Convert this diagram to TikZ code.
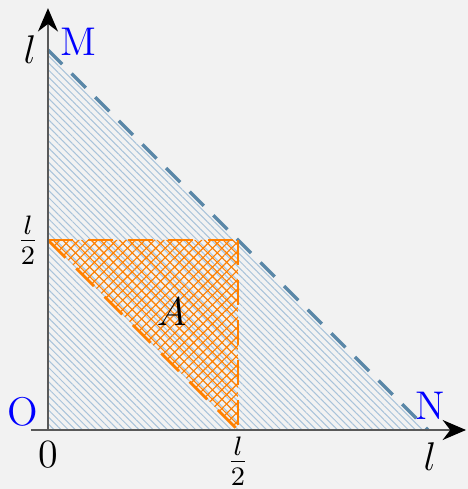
\documentclass[tikz,border=0pt]{standalone}
\usetikzlibrary{patterns.meta,arrows.meta}
\definecolor{bgray}{HTML}{F2F2F2}
\definecolor{hatchblue}{HTML}{A9C3DA}
\definecolor{lineblue}{HTML}{5A87A8}
\definecolor{areaorange}{HTML}{FF8000}
\tikzset{
  axis/.style={draw=black!65,line width=0.5pt,-{Stealth[length=7pt,width=6pt,color=black]}},
  bluedash/.style={draw=lineblue,line width=1pt,dash pattern=on 6pt off 4pt},
  orangedash/.style={draw=areaorange,line width=0.85pt,dash pattern=on 7.5pt off 4.5pt},
  lbl/.style={font=\large},
  pt/.style={font=\large,text=blue}
}
\begin{document}
\begin{tikzpicture}
  \fill[bgray] (-0.505,-0.621) rectangle (4.421,4.526);
  \useasboundingbox (-0.505,-0.621) rectangle (4.421,4.526);
  \coordinate (O) at (0,0);
  \coordinate (M) at (0,4);
  \coordinate (N) at (4,0);
  \coordinate (H) at (0,2);
  \coordinate (P) at (2,2);
  \coordinate (Q) at (2,0);
  % hatched areas
  \fill[pattern={Lines[angle=-45,distance=1.5pt,line width=0.3pt]},pattern color=hatchblue] (O) -- (M) -- (N) -- cycle;
  \fill[pattern={Hatch[angle=45,distance=2pt,line width=0.33pt]},pattern color=areaorange] (H) -- (P) -- (Q) -- cycle;
  % borders
  \draw[bluedash] (M) -- (N);
  \draw[orangedash] (H) -- (P);
  \draw[orangedash] (P) -- (Q);
  \draw[orangedash] (H) -- (Q);
  % axes
  \coordinate (xs) at (-0.18,0);
  \coordinate (xe) at (4.4,0);
  \coordinate (ye) at (0,4.44);
  \draw[axis] (xs) -- (xe);
  \draw[axis] (O) -- (ye);
  % labels
  \node[pt] (lM) at (0.316,4.084) {M};
  \node[pt] (lN) at (4.02,0.25) {N};
  \node[pt] (lO) at (-0.27,0.19) {O};
  \node[lbl] (yl) at (-0.19,4.0) {$l$};
  \node[lbl] (yh) at (-0.21,2.0) {$\frac{l}{2}$};
  \node[lbl] (x0) at (0,-0.26) {$0$};
  \node[lbl] (xh) at (2,-0.33) {$\frac{l}{2}$};
  \node[lbl] (xl) at (4.02,-0.28) {$l$};
  \node[lbl] (lA) at (1.3,1.24) {$A$};
\end{tikzpicture}
\end{document}
